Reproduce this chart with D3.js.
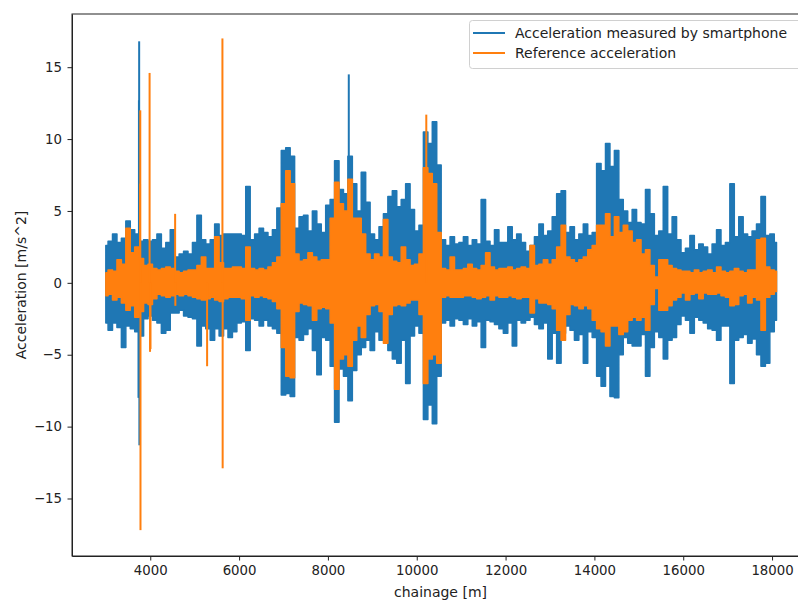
<!DOCTYPE html>
<html>
<head>
<meta charset="utf-8">
<script src="https://cdn.jsdelivr.net/npm/d3@7"></script>
<style>
  body { margin: 0; background: #fff; }
  svg { display: block; font-family: "DejaVu Sans", sans-serif; }
  .axis text { font-size: 13.3px; fill: #222; }
  .axis path, .axis line { stroke: #222; }
</style>
</head>
<body>
<div id="chart"></div>
<script>
// chainage grid of the envelope readings, every 100 m from 3000 to 18100
const chainage = d3.range(3000, 18200, 100);

// smartphone acceleration: upper / lower envelope per 100 m
const phoneHi = [
  2.6, 2.9, 3.4, 2.8, 3.1, 4.3, 3.7, 3.4, 2.9, 3.0,
  2.9, 3.0, 3.4, 2.4, 2.8, 3.7, 1.8, 2.0, 2.2, 2.0,
  2.8, 4.7, 3.0, 2.7, 3.0, 4.1, 3.3, 3.4, 3.4, 3.4,
  3.4, 3.3, 6.7, 3.0, 3.4, 3.8, 3.5, 3.2, 3.7, 5.2,
  9.2, 9.4, 8.8, 3.8, 4.6, 4.7, 3.6, 5.0, 4.1, 3.5,
  5.4, 5.8, 8.5, 6.5, 6.2, 8.8, 6.9, 5.0, 7.7, 5.6,
  3.4, 3.0, 3.9, 4.8, 6.0, 6.4, 5.3, 5.8, 6.9, 5.1,
  3.6, 4.0, 10.5, 9.7, 11.2, 8.2, 3.0, 2.6, 3.2, 2.7,
  2.8, 3.2, 2.6, 3.0, 2.7, 5.8, 2.9, 2.6, 3.7, 2.8,
  2.8, 3.9, 3.0, 3.4, 2.8, 2.2, 2.6, 3.2, 4.1, 3.3,
  3.6, 4.6, 6.2, 6.4, 3.5, 3.9, 3.0, 3.4, 4.1, 3.3,
  3.5, 8.3, 7.8, 9.7, 8.1, 9.2, 5.8, 5.0, 4.2, 5.1,
  4.2, 4.1, 6.5, 4.8, 3.3, 3.6, 6.7, 3.4, 4.6, 3.0,
  2.1, 2.4, 3.3, 2.3, 2.7, 2.5, 2.0, 2.7, 3.7, 2.6,
  2.8, 6.9, 3.2, 4.6, 3.4, 3.2, 3.6, 4.1, 6.0, 3.3,
  3.4, 2.8
];
const phoneLo = [
  -2.8, -3.3, -2.8, -3.1, -4.5, -3.0, -3.2, -3.4, -3.7, -2.5,
  -2.3, -2.6, -2.8, -3.5, -3.3, -2.1, -2.1, -1.9, -2.3, -2.4,
  -2.5, -4.4, -3.0, -3.2, -4.0, -3.2, -3.7, -3.2, -3.8, -3.4,
  -2.8, -2.7, -4.7, -2.5, -2.6, -3.0, -2.6, -3.0, -3.2, -3.5,
  -7.8, -7.7, -7.9, -3.8, -4.0, -3.6, -3.2, -4.7, -6.4, -3.8,
  -4.0, -5.8, -9.7, -6.0, -6.5, -8.2, -6.1, -5.0, -4.5, -4.0,
  -4.7, -3.4, -4.0, -3.6, -4.7, -5.3, -5.6, -4.0, -7.0, -3.7,
  -3.0, -3.5, -9.5, -8.5, -9.8, -6.5, -2.8, -2.6, -3.0, -2.5,
  -2.6, -2.9, -2.5, -3.0, -2.7, -4.5, -2.6, -2.7, -2.9, -3.2,
  -3.5, -2.8, -4.4, -2.6, -2.8, -2.6, -2.4, -2.9, -3.2, -2.8,
  -5.3, -3.5, -5.6, -3.5, -3.0, -3.3, -4.0, -3.6, -5.6, -3.4,
  -3.8, -6.5, -7.2, -5.8, -7.9, -8.0, -5.0, -3.8, -4.2, -4.4,
  -4.4, -3.6, -6.5, -4.5, -3.4, -3.8, -5.3, -4.0, -3.8, -2.9,
  -2.3, -2.6, -3.5, -2.4, -2.6, -2.8, -3.2, -3.3, -4.0, -3.0,
  -3.0, -7.0, -4.0, -3.8, -3.6, -4.2, -3.9, -5.0, -5.8, -5.6,
  -3.4, -2.6
];
// isolated peaks [chainage, value]
const phoneSpikes = [[3735, -8.0], [3745, 12.7], [3750, 16.8], [3755, -11.3], [8470, 14.5]];

// reference acceleration: upper / lower envelope per 100 m
const refHi = [
  0.7, 0.9, 0.8, 1.6, 1.3, 3.8, 2.1, 2.5, 1.7, 1.2,
  1.3, 1.0, 0.9, 1.0, 1.1, 1.0, 0.8, 0.7, 0.8, 0.9,
  0.9, 1.2, 1.8, 1.0, 1.0, 3.2, 1.4, 1.0, 1.0, 1.1,
  1.1, 1.0, 2.5, 1.0, 0.9, 1.0, 0.9, 1.1, 1.4, 1.8,
  5.5, 7.8, 6.9, 2.0, 1.5, 1.6, 2.1, 1.8, 1.5, 1.6,
  1.6, 4.5, 7.0, 5.5, 5.0, 7.2, 4.5, 4.5, 3.4, 2.0,
  1.6, 2.0, 1.8, 4.4, 1.8, 1.5, 1.4, 2.5, 1.6, 1.2,
  1.3, 2.0, 8.0, 7.6, 6.9, 3.5, 1.0, 0.9, 1.8, 0.9,
  0.9, 1.0, 1.3, 1.0, 0.9, 1.2, 2.1, 1.1, 0.9, 1.0,
  1.0, 1.1, 0.9, 1.0, 1.1, 1.0, 2.6, 1.2, 1.3, 1.6,
  1.3, 1.6, 2.5, 4.0, 1.8, 1.6, 1.4, 1.6, 1.8, 2.3,
  2.6, 4.0, 4.0, 4.8, 3.2, 4.6, 3.5, 4.0, 3.6, 2.8,
  3.0, 2.0, 2.3, 1.2, 0.4, 1.6, 1.6, 1.2, 1.0, 0.9,
  0.8, 0.8, 0.7, 0.9, 0.7, 0.8, 0.9, 0.7, 1.1, 0.8,
  0.7, 0.8, 1.0, 0.8, 0.7, 0.9, 0.9, 3.0, 3.1, 1.1,
  0.9, 0.8
];
const refLo = [
  -0.9, -0.8, -1.2, -1.0, -1.4, -1.9, -1.6, -2.4, -2.0, -1.4,
  -1.5, -1.1, -0.8, -0.9, -1.0, -0.9, -0.8, -0.9, -0.8, -0.9,
  -1.0, -1.1, -1.2, -1.1, -1.0, -1.2, -1.3, -1.1, -1.0, -1.0,
  -1.0, -1.1, -2.6, -0.9, -1.0, -0.9, -1.0, -1.1, -1.3, -1.8,
  -4.5, -6.5, -6.6, -2.0, -1.4, -1.5, -1.6, -2.6, -1.8, -1.7,
  -1.8, -2.8, -7.4, -5.3, -5.0, -5.8, -4.0, -3.0, -3.8, -2.2,
  -1.6, -1.5, -2.0, -4.2, -2.2, -1.6, -1.5, -1.6, -1.4, -1.2,
  -1.2, -2.2, -7.0, -5.3, -5.0, -5.6, -1.0, -0.9, -1.0, -1.0,
  -1.0, -0.9, -0.9, -1.0, -1.1, -1.0, -0.9, -1.2, -0.9, -1.0,
  -1.0, -0.9, -1.0, -1.1, -1.0, -1.0, -2.1, -1.1, -1.4, -1.4,
  -1.5, -1.8, -3.3, -4.0, -2.2, -1.5, -1.6, -1.8, -1.6, -1.8,
  -2.6, -3.2, -3.4, -4.4, -3.0, -3.0, -3.6, -3.4, -2.6, -2.4,
  -2.6, -2.4, -3.3, -1.5, -0.4, -1.9, -1.9, -1.6, -1.2, -1.0,
  -0.7, -1.2, -0.8, -0.7, -1.1, -0.7, -0.8, -0.8, -0.7, -0.9,
  -1.0, -1.6, -1.5, -0.9, -0.8, -1.4, -1.0, -1.2, -3.3, -1.0,
  -0.8, -0.6
];
const refSpikes = [
  [3770, 6.9], [3775, 12.0], [3780, -17.2], [3985, 14.6], [3995, -4.8], [4005, -4.6],
  [4560, 4.8], [4565, -1.6], [5280, -5.8], [5625, 17.0], [5630, -12.9], [10215, 11.7]
];

const xTicks = [4000, 6000, 8000, 10000, 12000, 14000, 16000, 18000];
const yTicks = [-15, -10, -5, 0, 5, 10, 15];
const seriesNames = ["Acceleration measured by smartphone", "Reference acceleration"];
const colors = ["#1f77b4", "#ff7f0e"];

const width = 798, height = 601;
const margin = {left: 72, top: 14};
const plotW = 745, plotH = 542;
const labelSize = 14;

const svg = d3.select("#chart").append("svg")
    .attr("width", width)
    .attr("height", height);

const x = d3.scaleLinear().domain([2238, 19012]).range([margin.left, margin.left + plotW]);
const y = d3.scaleLinear().domain([-19.0, 18.7]).range([margin.top + plotH, margin.top]);

svg.append("clipPath").attr("id", "plot-clip")
  .append("rect")
    .attr("x", margin.left).attr("y", margin.top)
    .attr("width", plotW).attr("height", plotH);

const plot = svg.append("g").attr("clip-path", "url(#plot-clip)");

function drawSeries(hi, lo, spikes, color) {
    const rows = chainage.map((c, i) => ({c: c, hi: hi[i], lo: lo[i]}));

    // band between the envelopes, stepped like the dense raw trace
    const band = d3.area()
        .curve(d3.curveStep)
        .x(d => x(d.c))
        .y0(d => y(d.lo))
        .y1(d => y(d.hi));
    plot.append("path")
        .datum(rows)
        .attr("d", band)
        .attr("fill", color)
        .attr("stroke", color)
        .attr("stroke-width", 1.5)
        .attr("stroke-linejoin", "round");

    // isolated peaks drawn as thin strokes from the zero line
    plot.selectAll(null)
        .data(spikes)
        .join("line")
        .attr("x1", d => x(d[0])).attr("x2", d => x(d[0]))
        .attr("y1", y(0)).attr("y2", d => y(d[1]))
        .attr("stroke", color)
        .attr("stroke-width", 2);
}

drawSeries(phoneHi, phoneLo, phoneSpikes, colors[0]);
drawSeries(refHi, refLo, refSpikes, colors[1]);

// axes
svg.append("g")
    .attr("class", "axis")
    .attr("transform", `translate(0,${margin.top + plotH})`)
    .call(d3.axisBottom(x).tickValues(xTicks).tickFormat(d3.format("d")).tickSize(4.5).tickPadding(5).tickSizeOuter(0));

svg.append("g")
    .attr("class", "axis")
    .attr("transform", `translate(${margin.left},0)`)
    .call(d3.axisLeft(y).tickValues(yTicks).tickFormat(d => d < 0 ? "\u2212" + (-d) : d).tickSize(4.5).tickPadding(5.5).tickSizeOuter(0));

svg.selectAll(".axis text").attr("font-family", "DejaVu Sans, sans-serif");

// frame
svg.append("rect")
    .attr("x", margin.left).attr("y", margin.top)
    .attr("width", plotW).attr("height", plotH)
    .attr("fill", "none")
    .attr("stroke", "#222")
    .attr("stroke-width", 1);

// axis labels
svg.append("text")
    .attr("x", margin.left + plotW / 2 - 4)
    .attr("y", 597)
    .attr("text-anchor", "middle")
    .attr("font-size", labelSize)
    .attr("fill", "#222")
    .text("chainage [m]");

svg.append("text")
    .attr("transform", `translate(26,${margin.top + plotH / 2}) rotate(-90)`)
    .attr("text-anchor", "middle")
    .attr("font-size", labelSize)
    .attr("fill", "#222")
    .text("Acceleration [m/s^2]");

// legend
const legend = svg.append("g");
legend.append("rect")
    .attr("x", 469.5).attr("y", 20.5)
    .attr("width", 345).attr("height", 48)
    .attr("rx", 3)
    .attr("fill", "#fff").attr("fill-opacity", 0.8)
    .attr("stroke", "#d0d0d0");

seriesNames.forEach((name, i) => {
    const ly = 33 + i * 20;
    legend.append("line")
        .attr("x1", 473).attr("x2", 505)
        .attr("y1", ly).attr("y2", ly)
        .attr("stroke", colors[i])
        .attr("stroke-width", 2);
    legend.append("text")
        .attr("x", 515).attr("y", ly + 5)
        .attr("font-size", labelSize)
        .attr("fill", "#222")
        .text(name);
});
</script>
</body>
</html>
